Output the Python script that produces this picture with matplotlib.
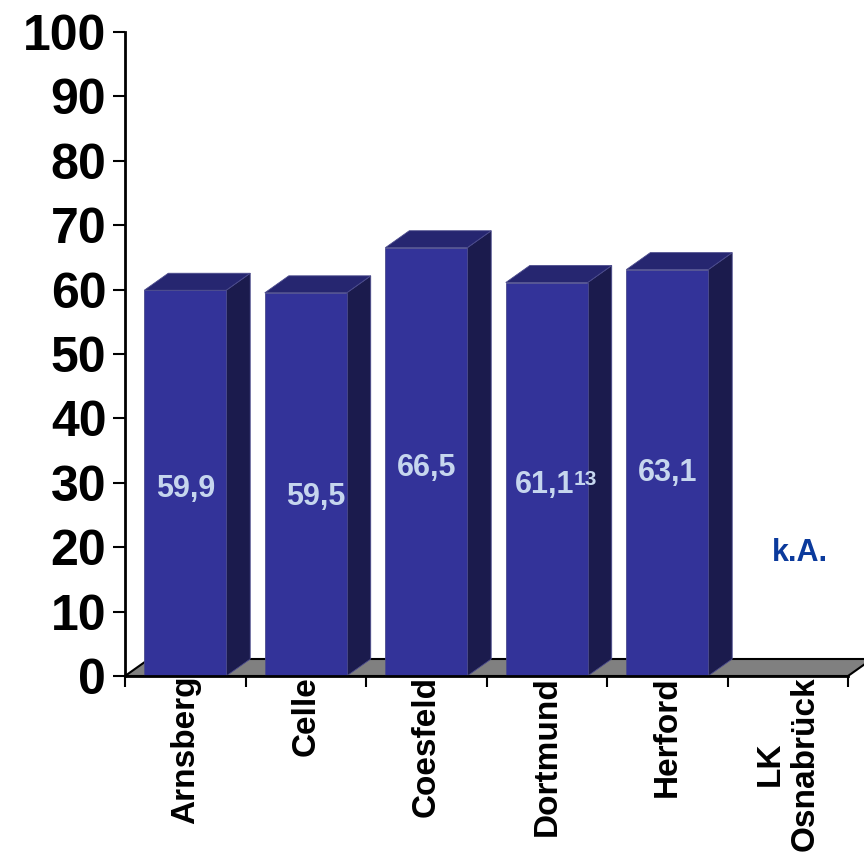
import matplotlib
matplotlib.use('Agg')
import matplotlib.pyplot as plt
from matplotlib.patches import Polygon, Rectangle

# ---- data ----
categories = ['Arnsberg', 'Celle', 'Coesfeld', 'Dortmund', 'Herford', 'LK\nOsnabrück']
values = [59.9, 59.5, 66.5, 61.1, 63.1, None]
value_labels = ['59,9', '59,5', '66,5', '61,1', '63,1', 'k.A.']
footnotes = ['', '', '', '13', '', '']
label_heights = [29.0, 27.8, 32.3, 29.7, 31.5, 19.1]
label_shift = [0.0, 0.08, 0.0, -0.02, 0.0, 0.0]
yticks = list(range(0, 101, 10))

# ---- style ----
FONT = ['Liberation Sans', 'DejaVu Sans']
plt.rcParams['font.family'] = FONT
FRONT = '#333399'
SIDE = '#1b1b4d'
TOP = '#262670'
EDGE = '#4b4b8c'
FLOOR = '#808080'
LABEL_COL = '#c6d6ee'
KA_COL = '#0b3a9c'

W, H, DPI = 864, 852, 100
fig = plt.figure(figsize=(W / DPI, H / DPI), dpi=DPI)
ax_l, ax_b, ax_w, ax_h = 125, 176, 723, 644
ax = fig.add_axes([ax_l / W, ax_b / H, ax_w / W, ax_h / H])
n = len(categories)
ax.set_xlim(0, n)
ax.set_ylim(0, 100)

# 3-D depth (pixels -> data units)
depth_px = (24, 17)
dx = depth_px[0] * n / ax_w
dy = depth_px[1] * 100 / ax_h
bw = 0.68

# floor
floor = Polygon([(0, 0), (n, 0), (n + dx, dy), (dx, dy)], closed=True,
                facecolor=FLOOR, edgecolor='black', lw=1.5, clip_on=False, zorder=1)
ax.add_patch(floor)

for i, v in enumerate(values):
    c = i + 0.5
    if v is not None:
        x0, x1 = c - bw / 2, c + bw / 2
        side = Polygon([(x1, 0), (x1 + dx, dy), (x1 + dx, v + dy), (x1, v)], closed=True,
                       facecolor=SIDE, edgecolor=EDGE, lw=0.6, clip_on=False, zorder=2)
        top = Polygon([(x0, v), (x1, v), (x1 + dx, v + dy), (x0 + dx, v + dy)], closed=True,
                      facecolor=TOP, edgecolor=EDGE, lw=0.6, clip_on=False, zorder=2)
        front = Rectangle((x0, 0), bw, v, facecolor=FRONT, edgecolor=EDGE, lw=0.6,
                          clip_on=False, zorder=3)
        ax.add_patch(side)
        ax.add_patch(top)
        ax.add_patch(front)
        t = ax.text(c + label_shift[i], label_heights[i], value_labels[i], ha='center',
                    va='center', fontsize=22, fontweight='bold', color=LABEL_COL, zorder=5)
        if footnotes[i]:
            ax.annotate(footnotes[i], xy=(1.0, 1.0), xycoords=t, ha='left', va='top',
                        fontsize=15, fontweight='bold', color=LABEL_COL, zorder=5)
    else:
        ax.text(c + dx / 2, label_heights[i], value_labels[i], ha='center', va='center',
                fontsize=22, fontweight='bold', color=KA_COL, zorder=5)

# axes / ticks
for s in ['top', 'right']:
    ax.spines[s].set_visible(False)
for s in ['left', 'bottom']:
    ax.spines[s].set_linewidth(2)
    ax.spines[s].set_zorder(4)

ax.set_yticks(yticks)
ax.set_yticklabels([str(t) for t in yticks])
ax.tick_params(axis='y', length=8.5, width=1.5, pad=5, labelsize=36)
for lab in ax.get_yticklabels():
    lab.set_fontweight('bold')

ax.set_xticks(range(n + 1))
ax.set_xticklabels([''] * (n + 1))
ax.tick_params(axis='x', which='major', length=8, width=1.5)
ax.set_xticks([i + 0.5 for i in range(n)], minor=True)
ax.set_xticklabels(categories, minor=True, rotation=90, fontsize=24,
                   fontweight='bold', multialignment='center', linespacing=1.15)
ax.tick_params(axis='x', which='minor', length=0, pad=0)

fig.savefig('out.png', dpi=DPI)
